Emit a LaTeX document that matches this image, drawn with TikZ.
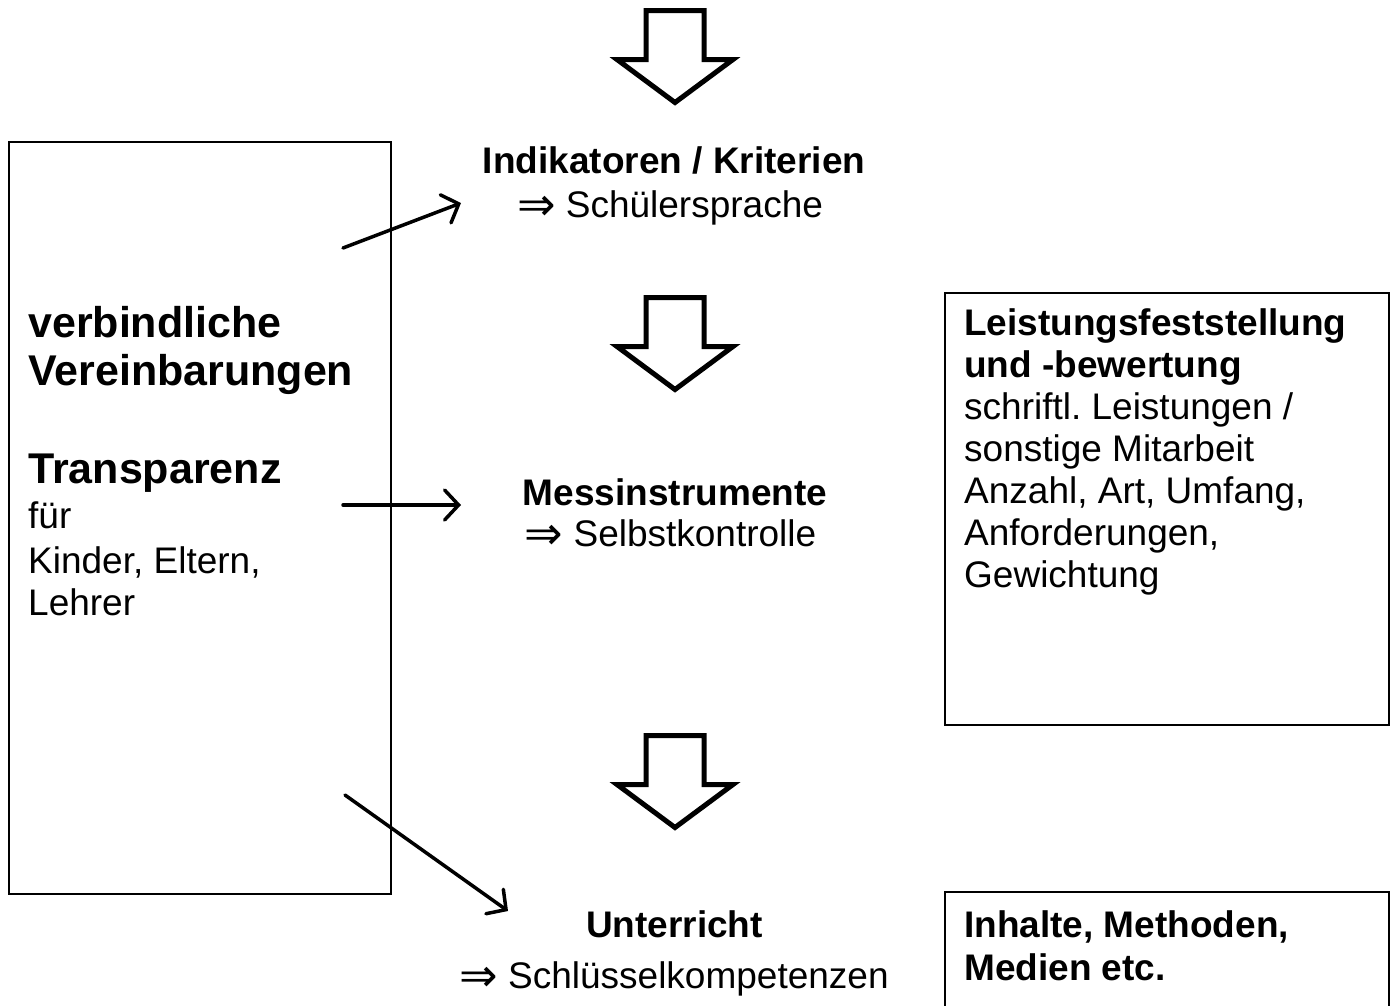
\documentclass[tikz,border=0pt]{standalone}
\usepackage{fontspec}
\setmainfont{Liberation Sans}
\newfontfamily\symfnt{DejaVu Sans}
\usetikzlibrary{arrows.meta}
\newcommand\dimpl{\raisebox{-3pt}{\fontsize{46}{50}\selectfont\symfnt ⇒}}
\frenchspacing
\begin{document}
\frenchspacing
\begin{tikzpicture}[x=1pt,y=-1pt,
  txt/.style={inner sep=0pt, anchor=base west, font=\fontsize{37}{42}\selectfont\frenchspacing},
  txtb/.style={inner sep=0pt, anchor=base west, font=\fontsize{37}{42}\selectfont\bfseries\frenchspacing},
  bigtxt/.style={inner sep=0pt, anchor=base west, font=\fontsize{43}{48}\selectfont\bfseries},
  ctxt/.style={inner sep=0pt, anchor=base, font=\fontsize{37}{42}\selectfont},
  ctxtb/.style={inner sep=0pt, anchor=base, font=\fontsize{37}{42}\selectfont\bfseries},
  framebox/.style={draw, line width=2pt, inner sep=0pt, anchor=north west},
  conn/.style={line width=3.5pt, line cap=round, -{Straight Barb[length=14pt,width=30pt,line cap=round]}},
  bigarrow/.style={draw, line width=5pt, fill=white, line join=miter},
  blockdown/.pic={\path[bigarrow] (-29,0) -- (29,0) -- (29,49) -- (58,49) -- (0,92) -- (-58,49) -- (-29,49) -- cycle;}
]
\useasboundingbox (0,0) rectangle (1395,1005);
\clip (0,0) rectangle (1395,1005);

% frames
\node[framebox, minimum width=382pt, minimum height=752pt] (lbox) at (8,141) {};
\node[framebox, minimum width=444pt, minimum height=432pt] (rbox) at (944,292) {};
\node[framebox, minimum width=444pt, minimum height=150pt] (rbox2) at (944,891) {};

% block arrows
\pic at (675,10.5) {blockdown};
\pic at (675,297.5) {blockdown};
\pic at (675,735.5) {blockdown};

% left box text
\node[bigtxt] (lt1) at (28,337) {verbindliche};
\node[bigtxt] (lt2) at (28,385) {Vereinbarungen};
\node[bigtxt] (lt3) at (28,483) {Transparenz};
\node[txt] (lt4) at (28,528) {für};
\node[txt] (lt5) at (28,573) {Kinder, Eltern,};
\node[txt] (lt6) at (28,615) {Lehrer};

% central text
\node[ctxtb] (ind) at (674,173) {Indikatoren / Kriterien};
\node[ctxt] (sch) at (670,217) {\dimpl{} Schülersprache};
\node[ctxtb] (mes) at (675,505) {Messinstrumente};
\node[ctxt] (sel) at (670.5,546) {\dimpl{} Selbstkontrolle};
\node[ctxtb] (unt) at (674.5,937) {Unterricht};
\node[ctxt] (sk) at (674,988) {\dimpl{} Schlüsselkompetenzen};

% right box 1 text
\node[txtb] (r1) at (964,335) {Leistungsfeststellung};
\node[txtb] (r2) at (964,377) {und -bewertung};
\node[txt] (r3) at (964,419) {schriftl. Leistungen /};
\node[txt] (r4) at (964,461) {sonstige Mitarbeit};
\node[txt] (r5) at (964,503) {Anzahl, Art, Umfang,};
\node[txt] (r6) at (964,545) {Anforderungen,};
\node[txt] (r7) at (964,587) {Gewichtung};

% right box 2 text
\node[txtb] (q1) at (964,937) {Inhalte, Methoden,};
\node[txtb] (q2) at (964,980) {Medien etc.};

% connectors
\coordinate (s1) at (343,248);
\coordinate (e1) at (461,203);
\coordinate (s2) at (343,505);
\coordinate (e2) at (461,505);
\coordinate (s3) at (345,795);
\coordinate (e3) at (508,911);
\draw[conn] (s1) -- (e1);
\draw[conn] (s2) -- (e2);
\draw[conn] (s3) -- (e3);
\end{tikzpicture}
\end{document}
